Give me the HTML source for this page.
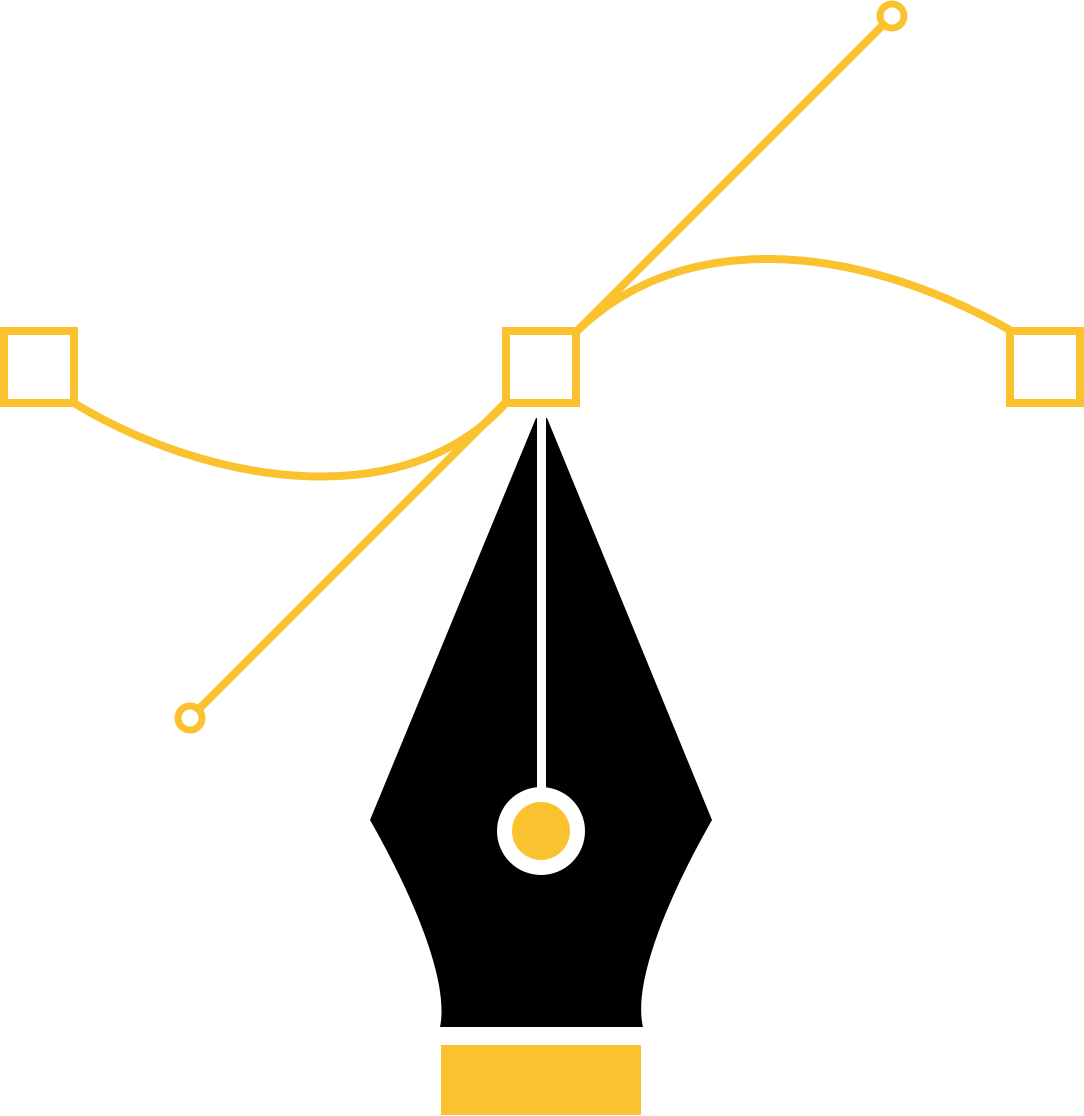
<!DOCTYPE html>
<html><head><meta charset="utf-8"><style>html,body{margin:0;padding:0;background:#fff}svg{display:block}</style></head>
<body>
<svg width="1084" height="1116" viewBox="0 0 1084 1116" xmlns="http://www.w3.org/2000/svg">
<g fill="none" stroke="#FBC230" stroke-width="8">
<line x1="196" y1="712" x2="506" y2="402"/>
<line x1="576" y1="332" x2="886" y2="22"/>
<path d="M74,403 C200,480 400,520 506,403"/>
<path d="M576,332 C680,230 850,240 1010,330"/>
<rect x="4" y="331" width="70" height="72"/>
<rect x="506" y="331" width="70" height="72"/>
<rect x="1010" y="331" width="70" height="72"/>
<circle cx="190" cy="718" r="12" stroke-width="7"/>
<circle cx="892" cy="16" r="12" stroke-width="7"/>
</g>
<path d="M536,418 L370,820 C410,890 450,980 440,1027 L643,1027 C632,980 672,890 712,820 L547,418 Z" fill="#000"/>
<rect x="537" y="416" width="9" height="380" fill="#fff"/>
<circle cx="541" cy="831" r="44" fill="#fff"/>
<circle cx="541" cy="831" r="29" fill="#FBC230"/>
<rect x="441" y="1045" width="200" height="70" fill="#FBC230"/>
</svg>
</body></html>
